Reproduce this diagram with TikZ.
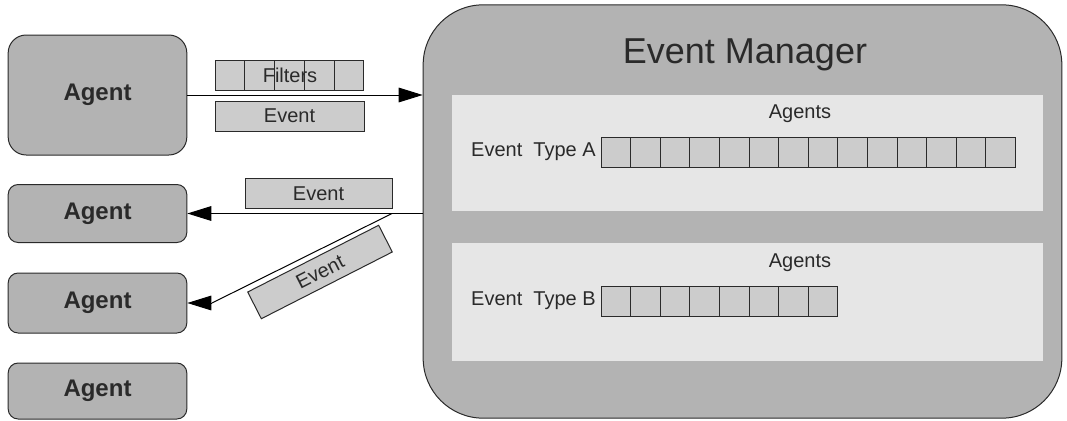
\documentclass[tikz,border=0pt]{standalone}
\usepackage{fontspec}
\setmainfont{Liberation Sans}
\usetikzlibrary{arrows.meta}

\definecolor{boxgrey}{HTML}{B3B3B3}
\definecolor{panelgrey}{HTML}{E6E6E6}
\definecolor{cellgrey}{HTML}{CCCCCC}
\definecolor{inkgrey}{HTML}{2A2A2A}

\tikzset{
  agentbox/.style={draw=inkgrey, fill=boxgrey, line width=0.75pt,
    minimum width=134pt, inner sep=0pt,
    font=\fontsize{18}{20}\selectfont\bfseries, text=inkgrey},
  managerbox/.style={draw=inkgrey, fill=boxgrey, line width=0.75pt,
    rounded corners=45pt, minimum width=479pt, minimum height=310pt, inner sep=0pt},
  panel/.style={fill=panelgrey, minimum width=443pt, inner sep=0pt},
  cell/.style={draw=inkgrey, fill=cellgrey, line width=0.75pt,
    minimum width=22.2pt, minimum height=22.5pt, inner sep=0pt},
  msgbox/.style={draw=inkgrey, fill=cellgrey, line width=0.75pt,
    minimum height=22.5pt, inner sep=0pt, font=\fontsize{15}{17}\selectfont, text=inkgrey},
  smalltext/.style={font=\fontsize{15}{17}\selectfont, text=inkgrey, inner sep=0pt},
  arr/.style={draw=black, line width=0.75pt, -{Triangle[length=18pt,width=11pt]}},
  conn/.style={draw=black, line width=0.75pt},
}

\begin{document}
\begin{tikzpicture}[x=0.75pt,y=-0.75pt]
\useasboundingbox (0,0) rectangle (1067,421);

% agents on the left
\node[agentbox, rounded corners=13.5pt, minimum height=90pt] (agent1) at (97.5,95) {Agent};
\node[agentbox, rounded corners=7.5pt, minimum height=43.5pt] (agent2) at (97.5,213.5) {Agent};
\node[agentbox, rounded corners=7.5pt, minimum height=45pt] (agent3) at (97.5,303) {Agent};
\node[agentbox, rounded corners=7.5pt, minimum height=42pt] (agent4) at (97.5,391) {Agent};

% event manager with its two event-type panels
\node[managerbox] (em) at (742.5,211.5) {};
\node[font=\fontsize{27}{30}\selectfont, text=inkgrey, inner sep=0pt] (emtitle) at (745,55) {Event Manager};

\node[panel, minimum height=87pt] (panelA) at (747.5,153) {};
\node[smalltext] (agentsA) at (800,114) {Agents};
\node[smalltext, anchor=east] (typeA) at (596,152) {Event\ \ Type A};
\foreach \i in {0,...,13}
  \node[cell] (ca\i) at ({615.8+29.6*\i},152) {};

\node[panel, minimum height=88.5pt] (panelB) at (747.5,302) {};
\node[smalltext] (agentsB) at (800,263) {Agents};
\node[smalltext, anchor=east] (typeB) at (596,301) {Event\ \ Type B};
\foreach \i in {0,...,7}
  \node[cell] (cb\i) at ({615.8+29.6*\i},301) {};

% agent registering with filters and sending an event
\foreach \i in {0,...,4}
  \node[cell] (f\i) at ({229.9+29.8*\i},75) {};
\node[smalltext] (filters) at (290,75) {Filters};
\node[msgbox, minimum width=111.75pt] (event1) at (289.5,116) {Event};

\draw[arr] (agent1.east) -- (agent1.east -| em.west);

% events dispatched to agents
\node[msgbox, minimum width=110.25pt] (event2) at (318.5,193.5) {Event};
\node[msgbox, minimum width=110.25pt, rotate=27] (event3) at (320,272) {Event};

\coordinate (split) at (392,213.5);
\coordinate (bend) at (212,303);
\draw[arr] (agent2.east -| em.west) -- (agent2.east);
\draw[conn] (split) -- (bend);
\draw[arr] (bend) -- (agent3.east);
\end{tikzpicture}
\end{document}
